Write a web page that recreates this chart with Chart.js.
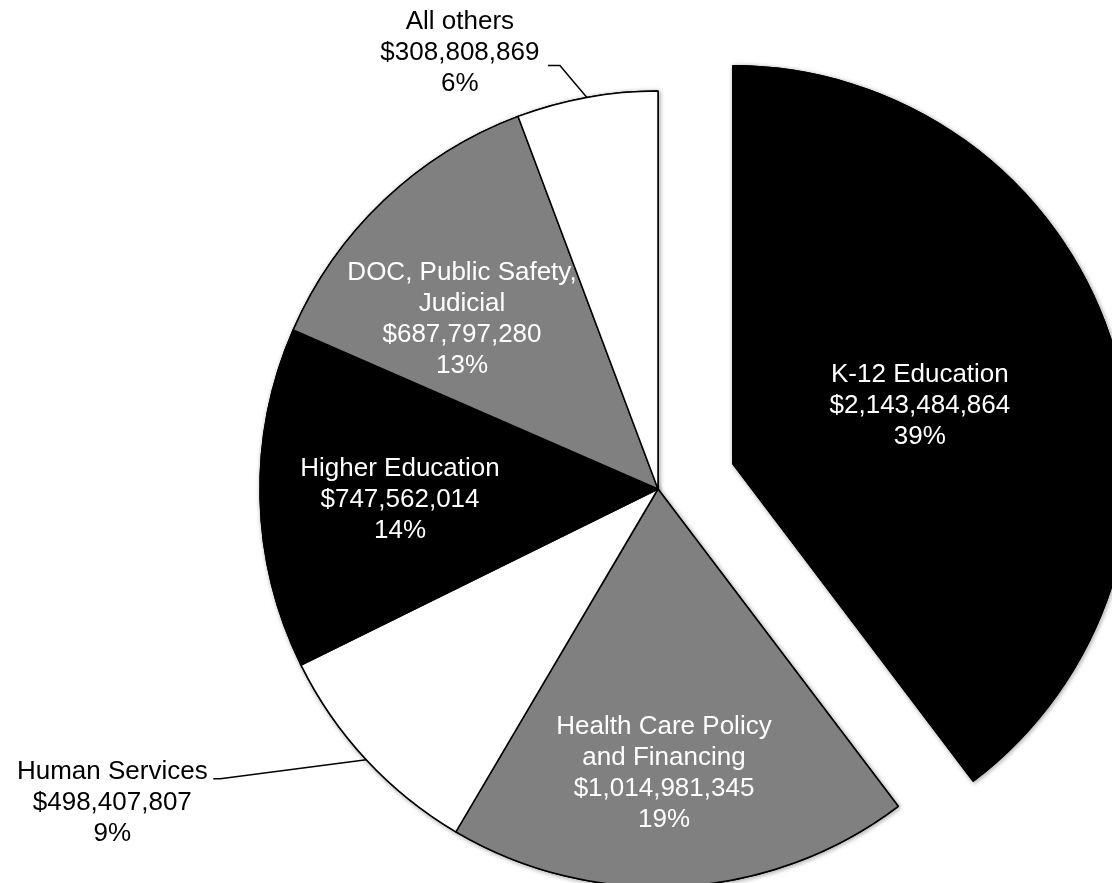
<!DOCTYPE html>
<html>
<head>
<meta charset="utf-8">
<title>General Fund by Department</title>
<script src="https://cdn.jsdelivr.net/npm/chart.js@4.4.1/dist/chart.umd.min.js"></script>
<style>
  html, body { margin: 0; padding: 0; background: #fff; }
  #wrap { width: 1112px; height: 883px; position: relative; overflow: hidden; }
</style>
</head>
<body>
<div id="wrap"><canvas id="pieChart"></canvas></div>
<script>
// ------------------------------
// Data
// ------------------------------
const departments = [
  "K-12 Education",
  "Health Care Policy\nand Financing",
  "Human Services",
  "Higher Education",
  "DOC, Public Safety,\nJudicial",
  "All others"
];
const amounts = [2143484864, 1014981345, 498407807, 747562014, 687797280, 308808869];
const shareLabels = ["39%", "19%", "9%", "14%", "13%", "6%"];

// ------------------------------
// Styling
// ------------------------------
const sliceColors = ["#000000", "#808080", "#ffffff", "#000000", "#808080", "#ffffff"];
const labelColors = ["#ffffff", "#ffffff", "#000000", "#ffffff", "#ffffff", "#000000"];
const FONT = "'Liberation Sans', Arial, Helvetica, sans-serif";

// label spots in px: inside labels from the slice's (possibly exploded) center,
// outside labels from the middle of the slice's outer edge, with a leader line
const labelSpots = [
  { at: [187, -58] },
  { at: [6, 284] },
  { outside: true, at: [-254, 43], elbow: [-146, 19], tail: [-153, 19] },
  { at: [-258, 11] },
  { at: [-196, -170] },
  { outside: true, at: [-127, -45], elbow: [-27, -32], tail: [-39, -32] }
];

const money = v => "$" + v.toLocaleString("en-US");

// ------------------------------
// Plugins
// ------------------------------
// pull one slice away from the center along its mid angle
const explodeSlice = {
  id: "explodeSlice",
  afterUpdate(chart, args, opts) {
    const arc = chart.getDatasetMeta(0).data[opts.index];
    if (!arc) return;
    const mid = (arc.startAngle + arc.endAngle) / 2;
    arc.x += Math.cos(mid) * opts.distance;
    arc.y += Math.sin(mid) * opts.distance;
  }
};

// soft shadow under the slices
const sliceShadow = {
  id: "sliceShadow",
  beforeDatasetsDraw(chart, args, opts) {
    const ctx = chart.ctx;
    ctx.save();
    ctx.shadowColor = opts.color;
    ctx.shadowBlur = opts.blur;
    ctx.shadowOffsetX = 1;
    ctx.shadowOffsetY = 1;
    chart.getDatasetMeta(0).data.forEach(arc => arc.draw(ctx));
    ctx.restore();
  }
};

// category / amount / share labels
const sliceLabels = {
  id: "sliceLabels",
  afterDatasetsDraw(chart, args, opts) {
    const ctx = chart.ctx;
    const arcs = chart.getDatasetMeta(0).data;
    ctx.save();
    ctx.font = `${opts.size}px ${FONT}`;
    ctx.textAlign = "center";
    ctx.textBaseline = "middle";
    arcs.forEach((arc, i) => {
      const spot = labelSpots[i];
      const mid = (arc.startAngle + arc.endAngle) / 2;
      let cx, cy;
      if (spot.outside) {
        const ex = arc.x + Math.cos(mid) * arc.outerRadius;
        const ey = arc.y + Math.sin(mid) * arc.outerRadius;
        ctx.beginPath();
        ctx.moveTo(ex, ey);
        ctx.lineTo(ex + spot.elbow[0], ey + spot.elbow[1]);
        ctx.lineTo(ex + spot.tail[0], ey + spot.tail[1]);
        ctx.strokeStyle = "#000";
        ctx.lineWidth = 1.5;
        ctx.stroke();
        cx = ex + spot.at[0];
        cy = ey + spot.at[1];
      } else {
        cx = arc.x + spot.at[0];
        cy = arc.y + spot.at[1];
      }
      const lines = [...departments[i].split("\n"), money(amounts[i]), shareLabels[i]];
      ctx.fillStyle = labelColors[i];
      lines.forEach((t, k) => {
        ctx.fillText(t, cx, cy + (k - (lines.length - 1) / 2) * opts.lineHeight);
      });
    });
    ctx.restore();
  }
};

// ------------------------------
// Chart
// ------------------------------
const ctx = document.getElementById("pieChart");
new Chart(ctx, {
  type: "pie",
  data: {
    labels: departments,
    datasets: [{
      data: amounts,
      backgroundColor: sliceColors,
      borderColor: "#000000",
      borderWidth: 1.5,
      clip: false
    }]
  },
  options: {
    responsive: true,
    maintainAspectRatio: false,
    animation: false,
    events: [],
    radius: 398,
    layout: { padding: { left: 204, top: 95, right: 0, bottom: 0 } },
    plugins: {
      legend: { display: false },
      tooltip: { enabled: false },
      explodeSlice: { index: 0, distance: 79 },
      sliceShadow: { color: "rgba(0,0,0,0.35)", blur: 5 },
      sliceLabels: { size: 26, lineHeight: 31 }
    }
  },
  plugins: [explodeSlice, sliceShadow, sliceLabels]
});
</script>
</body>
</html>
